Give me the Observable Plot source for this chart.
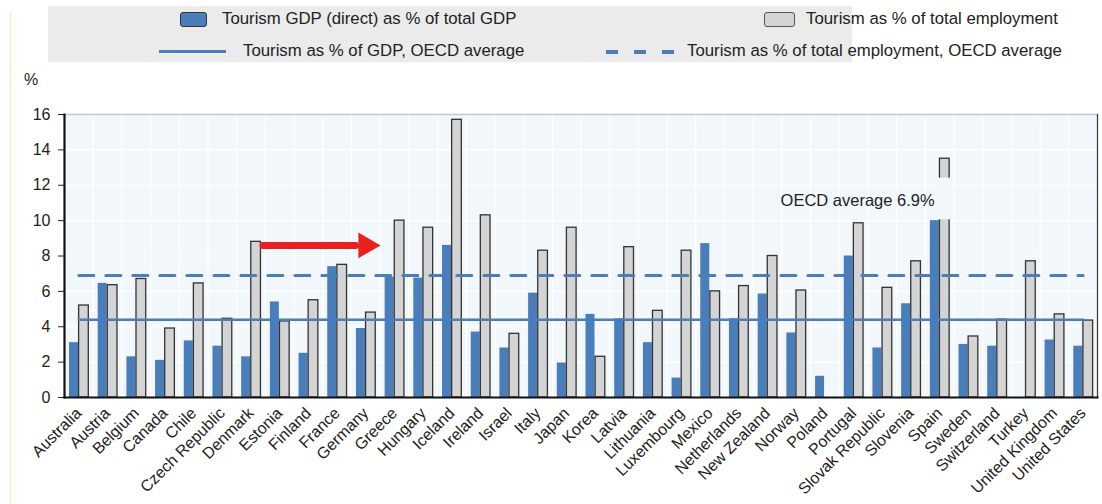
<!DOCTYPE html>
<html><head><meta charset="utf-8">
<script src="https://cdn.jsdelivr.net/npm/d3@7"></script>
<script src="https://cdn.jsdelivr.net/npm/@observablehq/plot@0.6"></script>
<style>
body{margin:0;background:#fff;font-family:"Liberation Sans",Arial,sans-serif;color:#222}
#wrap{position:relative;width:1102px;height:504px;overflow:hidden}
#legend{position:relative;width:1102px;height:70px}
.abs{position:absolute}
.lt{position:absolute;font-size:16.8px;line-height:18px;white-space:nowrap;color:#222}
#yline{position:absolute;left:10px;top:12px;bottom:0;width:1px;background:#fbefa8}
</style></head>
<body>
<div id="wrap">
<div id="legend">
  <div class="abs" style="left:48px;top:6px;width:804px;height:56px;background:#ebebeb"></div>
  <div class="abs" style="left:180px;top:12px;width:25px;height:13px;background:#4a7ebb;border:1.5px solid #333;border-radius:3px"></div>
  <div class="lt" style="left:222px;top:10px">Tourism GDP (direct) as % of total GDP</div>
  <div class="abs" style="left:159px;top:50px;width:67px;height:3px;background:#4a7ebb"></div>
  <div class="lt" style="left:243px;top:42px">Tourism as % of GDP, OECD average</div>
  <div class="abs" style="left:764px;top:12px;width:29px;height:13px;background:#d4d4d4;border:1.5px solid #555;border-radius:3px"></div>
  <div class="lt" style="left:806px;top:10px">Tourism as % of total employment</div>
  <div class="abs" style="left:606px;top:50px;width:68px;height:4px;background:repeating-linear-gradient(90deg,#4a7ebb 0 12px,transparent 12px 28px)"></div>
  <div class="lt" style="left:687px;top:42px">Tourism as % of total employment, OECD average</div>
  <div class="lt" style="left:24px;top:71px;font-size:16px">%</div>
</div>
<div id="chart"></div>
<div id="yline"></div>
</div>
<script>
const countries = ["Australia","Austria","Belgium","Canada","Chile","Czech Republic","Denmark","Estonia","Finland","France","Germany","Greece","Hungary","Iceland","Ireland","Israel","Italy","Japan","Korea","Latvia","Lithuania","Luxembourg","Mexico","Netherlands","New Zealand","Norway","Poland","Portugal","Slovak Republic","Slovenia","Spain","Sweden","Switzerland","Turkey","United Kingdom","United States"];
const gdpShare = [3.1,6.45,2.3,2.1,3.2,2.9,2.3,5.4,2.5,7.4,3.9,6.8,6.75,8.6,3.7,2.8,5.9,1.95,4.7,4.45,3.1,1.1,8.7,4.45,5.85,3.65,1.2,8.0,2.8,5.3,10.0,3.0,2.9,0,3.25,2.9];
const empShare = [5.2,6.35,6.7,3.9,6.45,4.45,8.8,4.3,5.5,7.5,4.8,10.0,9.6,15.7,10.3,3.6,8.3,9.6,2.3,8.5,4.9,8.3,6.0,6.3,8.0,6.05,0,9.85,6.2,7.7,13.5,3.45,4.4,7.7,4.7,4.35];
const gdpAverage = 4.4;
const empAverage = 6.9;
const yTicks = [0,2,4,6,8,10,12,14,16];
const avgLabel = "OECD average 6.9%";
const spainGap = [{country:"Spain", y1:10.05, y2:12.4}];
const arrowNote = [{from:"Denmark", to:"Germany", y:8.6}];

const rows = countries.map((c,i)=>({country:c, gdp:gdpShare[i], emp:empShare[i]}));
const ends = [countries[0], countries[countries.length-1]];
const W = 1102, ML = 64, MR = 5;
const bw = (W-ML-MR)/countries.length;
const blue = "#4a7ebb", bg = "#f1f7fb";

const chart = Plot.plot({
  width: W, height: 434,
  marginTop: 44, marginBottom: 107, marginLeft: ML, marginRight: MR,
  style: {fontFamily: "Liberation Sans, Arial, sans-serif", background: "transparent", color:"#222"},
  x: {type:"band", domain: countries, padding: 0, round: false, label: null},
  y: {domain:[0,16], label:null},
  marks: [
    Plot.frame({fill: bg, stroke: null}),
    Plot.gridY(yTicks, {stroke:"#fff", strokeOpacity:1, strokeWidth:1.2}),
    Plot.gridX(countries, {stroke:"#fff", strokeOpacity:1, strokeWidth:1.2, dx: -bw/2}),
    Plot.barY(rows, {x:"country", y:"gdp", fill: blue, insetLeft: 5, insetRight: bw-14}),
    Plot.barY(rows.filter(d=>d.emp>0), {x:"country", y:"emp", fill:"#d4d4d4", stroke:"#333", strokeWidth:1.3, insetLeft:14.6, insetRight:4.4}),
    Plot.rectY(spainGap, {x:"country", y1:"y1", y2:"y2", fill: bg, insetLeft: 13, insetRight: 3}),
    Plot.line(ends.map(c=>({country:c, y:gdpAverage})), {x:"country", y:"y", stroke: blue, strokeWidth: 2.6}),
    Plot.line(ends.map(c=>({country:c, y:empAverage})), {x:"country", y:"y", stroke: blue, strokeWidth: 3, strokeDasharray:"15,12"}),
    Plot.text([avgLabel], {x: ()=>"Portugal", y: ()=>11.1, dx: 4, fontSize: 16.5, fill:"#222"}),
    Plot.arrow(arrowNote, {x1:"from", x2:"to", y1:"y", y2:"y", stroke:"#e8211d", strokeWidth: 7, headLength: 0, insetStart: 12, insetEnd: 10}),
    Plot.dot(arrowNote, {x:"to", y:"y", symbol:"triangle", rotate: 90, r: 9.5, fill:"#e8211d", stroke:null}),
    Plot.frame({anchor:"top", stroke:"#c8c8c8", strokeWidth:1.5}),
    Plot.frame({anchor:"right", stroke:"#333", strokeWidth:1.2}),
    Plot.frame({anchor:"left", stroke:"#111", strokeWidth:2.2}),
    Plot.frame({anchor:"bottom", stroke:"#111", strokeWidth:2.2}),
    Plot.axisY({ticks: yTicks, tickSize: 6, tickPadding: 8, fontSize: 16, tickFormat: d=>d, label:null}),
    Plot.axisX({tickSize: 0, tickRotate: -45, tickPadding: 8, fontSize: 16, dx: 0, dy: 5, label:null})
  ]
});
document.getElementById("chart").appendChild(chart);
</script>
</body></html>
